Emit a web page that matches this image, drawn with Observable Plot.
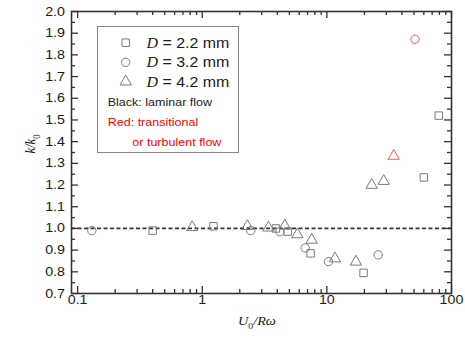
<!DOCTYPE html>
<html>
<head>
<meta charset="utf-8">
<script src="https://cdn.jsdelivr.net/npm/d3@7"></script>
<script src="https://cdn.jsdelivr.net/npm/@observablehq/plot@0.6"></script>
<style>
  html, body { margin: 0; padding: 0; background: #fff; }
  #chart { width: 465px; height: 337px; }
</style>
</head>
<body>
<div id="chart"></div>
<script>
// ---- data (U0/Rω, k/k0); regime: "L" laminar, "T" transitional/turbulent ----
const sqX = [0.4, 1.23, 3.9, 4.85, 7.4, 19.7, 60, 79];
const sqY = [0.99, 1.01, 1.0, 0.985, 0.885, 0.795, 1.235, 1.52];
const sqR = ["L", "L", "L", "L", "L", "L", "L", "L"];

const ciX = [0.13, 2.45, 4.2, 6.7, 10.3, 25.8, 51];
const ciY = [0.99, 0.99, 0.985, 0.91, 0.847, 0.878, 1.872];
const ciR = ["L", "L", "L", "L", "L", "L", "T"];

const trX = [0.83, 2.3, 3.4, 4.6, 5.8, 7.55, 11.6, 17.1, 22.9, 28.6, 34.4];
const trY = [1.005, 1.01, 1.003, 1.012, 0.972, 0.947, 0.861, 0.846, 1.2, 1.218, 1.334];
const trR = ["L", "L", "L", "L", "L", "L", "L", "L", "L", "L", "T"];

const legendLabels = ["D = 2.2 mm", "D = 3.2 mm", "D = 4.2 mm"];
const noteLabels = ["Black: laminar flow", "Red: transitional", "or turbulent flow"];

const xMajor = [0.1, 1, 10, 100];
const xTickLabels = ["0.1", "1", "10", "100"];
const xMinor = [0.2, 0.3, 0.4, 0.5, 0.6, 0.7, 0.8, 0.9, 2, 3, 4, 5, 6, 7, 8, 9, 20, 30, 40, 50, 60, 70, 80, 90];
const yMajor = [0.7, 0.8, 0.9, 1.0, 1.1, 1.2, 1.3, 1.4, 1.5, 1.6, 1.7, 1.8, 1.9, 2.0];
const yTickLabels = ["0.7", "0.8", "0.9", "1.0", "1.1", "1.2", "1.3", "1.4", "1.5", "1.6", "1.7", "1.8", "1.9", "2.0"];
const yMinor = [0.75, 0.85, 0.95, 1.05, 1.15, 1.25, 1.35, 1.45, 1.55, 1.65, 1.75, 1.85, 1.95];
const refLine = [1.0];

// ---- build tables ----
const rows = (xs, ys, rs) => xs.map((x, i) => ({x, y: ys[i], regime: rs[i]}));
const squares = rows(sqX, sqY, sqR);
const circles = rows(ciX, ciY, ciR);
const triangles = rows(trX, trY, trR);

const GRAY = "#7a7a7a";
const RED = "#ff4d4d";
const AXIS = "#333";
const R = 4.2;

function dots(data, symbol) {
  return [
    Plot.dot(data, {filter: d => d.regime === "L", x: "x", y: "y", symbol, r: R, stroke: GRAY, fill: "none", strokeWidth: 1}),
    Plot.dot(data, {filter: d => d.regime === "T", x: "x", y: "y", symbol, r: R, stroke: RED, fill: "none", strokeWidth: 1})
  ];
}

const W = 465, H = 337, ML = 71, MR = 14, MT = 11, MB = 44;
const PW = W - ML - MR, PH = H - MT - MB;
const MAJ = 7, MIN = 4;
const tk = {stroke: AXIS, strokeWidth: 1.3};

// inward tick marks on all four sides, as rules inset to tick length
function xTicks(values, len) {
  return [
    Plot.ruleX(values, {...tk, insetTop: PH - len}),
    Plot.ruleX(values, {...tk, insetBottom: PH - len})
  ];
}
function yTicks(values, len) {
  return [
    Plot.ruleY(values, {...tk, insetRight: PW - len}),
    Plot.ruleY(values, {...tk, insetLeft: PW - len})
  ];
}

const chart = Plot.plot({
  width: W,
  height: H,
  marginLeft: ML,
  marginRight: MR,
  marginTop: MT,
  marginBottom: MB,
  style: {fontFamily: "'Liberation Sans', Arial, sans-serif", fontSize: "12.5px", color: "#1a1a1a", background: "#fff"},
  x: {type: "log", domain: [0.0893, 100], label: null},
  y: {domain: [0.7, 2.0], label: null},
  marks: [
    Plot.ruleY(refLine, {stroke: AXIS, strokeWidth: 1.6, strokeDasharray: "4,2.5"}),
    ...dots(squares, "square"),
    ...dots(circles, "circle"),
    ...dots(triangles, "triangle"),
    Plot.axisX(xMajor, {anchor: "bottom", tickSize: 0, tickPadding: 1.5, label: null, tickFormat: d => xTickLabels[xMajor.indexOf(d)]}),
    Plot.axisY(yMajor, {anchor: "left", tickSize: 0, tickPadding: 6.5, label: null, tickFormat: d => yTickLabels[yMajor.indexOf(d)]}),
    ...xTicks(xMajor, MAJ),
    ...xTicks(xMinor, MIN),
    ...yTicks(yMajor, MAJ),
    ...yTicks(yMinor, MIN),
    Plot.frame({stroke: AXIS, strokeWidth: 1.6})
  ]
});

document.getElementById("chart").appendChild(chart);

// The reference glyphs are horizontally widened; mimic that on tick labels.
const SX = 1.14;
chart.querySelectorAll('g[aria-label="x-axis tick label"] text, g[aria-label="y-axis tick label"] text').forEach(t => {
  const tr = t.getAttribute("transform");
  if (tr) t.setAttribute("transform", tr + ` scale(${SX},1)`);
});

// ---- axis titles and legend (real text) ----
const svg = d3.select(chart);
const SERIF = "'Liberation Serif', 'Times New Roman', serif";
const SANS = "'Liberation Sans', Arial, sans-serif";

// x title: U0/Rω
const xt = svg.append("text")
  .attr("transform", `translate(257,325) scale(${SX},1)`)
  .attr("text-anchor", "middle")
  .attr("font-family", SERIF).attr("font-style", "italic").attr("font-size", 12.5).attr("fill", "#1a1a1a");
xt.append("tspan").text("U");
xt.append("tspan").attr("font-size", 8.5).attr("font-style", "normal").attr("dy", 4).text("0");
xt.append("tspan").attr("dy", -4).text("/Rω");

// y title: k/k0
const yt = svg.append("text")
  .attr("transform", `translate(35,144) rotate(-90) scale(1,${SX})`)
  .attr("text-anchor", "middle")
  .attr("font-family", SERIF).attr("font-style", "italic").attr("font-size", 12.5).attr("fill", "#1a1a1a");
yt.append("tspan").text("k/k");
yt.append("tspan").attr("font-size", 8.5).attr("font-style", "normal").attr("dy", 4).text("0");

// legend box
const lg = svg.append("g").attr("text-anchor", "start");
lg.append("rect").attr("x", 97.5).attr("y", 26.5).attr("width", 141).attr("height", 126)
  .attr("fill", "#fff").attr("stroke", "#888").attr("stroke-width", 1);
const symTypes = [d3.symbolSquare, d3.symbolCircle, d3.symbolTriangle];
const rowY = [42.7, 62.3, 81.7];
legendLabels.forEach((lab, i) => {
  lg.append("path")
    .attr("d", d3.symbol(symTypes[i], Math.PI * R * R)())
    .attr("transform", `translate(125.7,${rowY[i]})`)
    .attr("fill", "none").attr("stroke", GRAY).attr("stroke-width", 1);
  const t = lg.append("text")
    .attr("text-anchor", "start")
    .attr("transform", `translate(146.5,${rowY[i] + 5}) scale(${SX},1)`)
    .attr("font-family", SANS).attr("font-size", 14).attr("fill", "#1a1a1a");
  const parts = lab.split(" ");
  t.append("tspan").attr("font-family", SERIF).attr("font-style", "italic").text(parts[0]);
  t.append("tspan").text(" " + parts.slice(1).join(" "));
});
const noteX = [107.7, 107.7, 132.3];
const noteY = [105.7, 125.7, 145.7];
const noteColor = ["#1a1a1a", "#ff0000", "#ff0000"];
noteLabels.forEach((lab, i) => {
  lg.append("text")
    .attr("text-anchor", "start")
    .attr("transform", `translate(${noteX[i]},${noteY[i]}) scale(${SX},1)`)
    .attr("font-family", SANS).attr("font-size", 11).attr("fill", noteColor[i])
    .text(lab);
});
</script>
</body>
</html>
